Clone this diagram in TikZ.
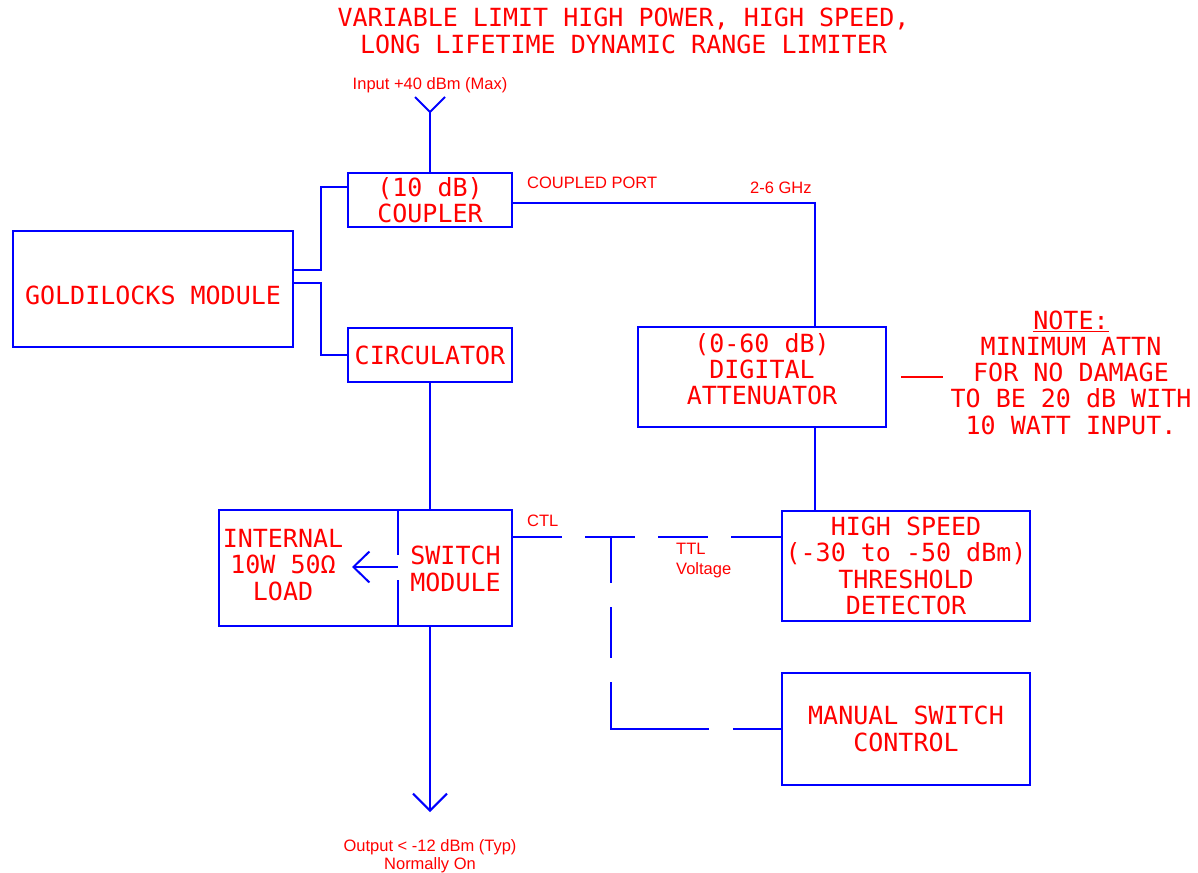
\documentclass[tikz,border=0pt]{standalone}
\usepackage{fontspec}
\setmainfont{Liberation Sans}
\newfontfamily\cadfont{DejaVu Sans Mono}
\usetikzlibrary{arrows.meta}
\definecolor{cadred}{RGB}{255,0,0}
\definecolor{cadblue}{RGB}{0,0,255}
\begin{document}
\begin{tikzpicture}[x=1pt,y=-1pt,
  cad/.style={text=cadred,font=\cadfont\fontsize{25}{26.3}\selectfont,align=center,inner sep=0pt},
  blk/.style={cad,draw=cadblue,line width=2pt,rectangle},
  lbl/.style={text=cadred,font=\fontsize{16.5}{19}\selectfont,inner sep=0pt},
  wire/.style={draw=cadblue,line width=2pt},
  bigtip/.style={-{Straight Barb[length=17pt,width=34pt]}},
  loadtipstyle/.style={-{Straight Barb[length=16pt,width=31pt]}}
]
\useasboundingbox (0,0) rectangle (1198,872);

% title
\node[cad] (title) at (623.5,31) {VARIABLE LIMIT HIGH POWER, HIGH SPEED,\\LONG LIFETIME DYNAMIC RANGE LIMITER};

% blocks
\node[blk,minimum width=164pt,minimum height=54pt] (coupler) at (430,200) {(10 dB)\\COUPLER};
\node[blk,minimum width=280pt,minimum height=116pt] (gold) at (153,289) {};
\node[cad] (goldtxt) at (153,295) {GOLDILOCKS MODULE};
\node[blk,minimum width=164pt,minimum height=54pt] (circ) at (430,355) {CIRCULATOR};
\node[blk,minimum width=248pt,minimum height=100pt] (att) at (762,377) {};
\node[cad] (atttxt) at (762,369) {(0-60 dB)\\DIGITAL\\ATTENUATOR};
\node[blk,minimum width=248pt,minimum height=110pt] (det) at (906,566) {HIGH SPEED\\(-30 to -50 dBm)\\THRESHOLD\\DETECTOR};
\node[blk,minimum width=248pt,minimum height=112pt] (man) at (906,729) {MANUAL SWITCH\\CONTROL};

% load + switch module
\node[minimum width=179pt,minimum height=116pt,inner sep=0pt] (loadbox) at (308.5,568) {};
\node[minimum width=114pt,minimum height=116pt,inner sep=0pt] (swbox) at (455,568) {};
\draw[wire] (loadbox.north west) rectangle (swbox.south east);
\draw[wire] (swbox.north west) -- ++(0,45);
\draw[wire] (swbox.south west) -- ++(0,-46);
\node[cad] (loadtxt) at (283,565) {INTERNAL\\10W 50Ω\\LOAD};
\node[cad] (swtxt) at (455.5,569) {SWITCH\\MODULE};
\coordinate (loadtip) at (352,567);
\draw[wire,loadtipstyle] (swbox.west |- loadtip) -- (loadtip);

% note
\node[cad] (note) at (1071,372.5) {\underline{NOTE:}\\MINIMUM ATTN\\FOR NO DAMAGE\\TO BE 20 dB WITH\\10 WATT INPUT.};
\draw[draw=cadred,line width=2pt] ([xshift=14pt]att.east) -- ++(42,0);

% input
\coordinate (ant) at (430,112);
\draw[wire] (ant) -- (coupler.north);
\draw[wire] ([shift={(-15,-15)}]ant) -- (ant) -- ([shift={(15,-15)}]ant);
\node[lbl,anchor=base] (inlbl) at (430,90) {Input +40 dBm (Max)};

% connections
\draw[wire] ([yshift=19pt]gold.east) -- ++(27,0) |- ([yshift=13pt]coupler.west);
\draw[wire] ([yshift=6pt]gold.east) -- ++(27,0) |- (circ.west);
\draw[wire] ([yshift=-3pt]coupler.east) -| ([xshift=53pt]att.north);
\node[lbl,anchor=base west] (cplbl) at (527,188) {COUPLED PORT};
\node[lbl,anchor=base west] (ghzlbl) at (750,193) {2-6 GHz};
\draw[wire] (circ.south) -- (circ.south |- swbox.north);
\draw[wire] ([xshift=53pt]att.south) -- ([xshift=53pt]att.south |- det.north);

% output
\coordinate (out) at (430,812);
\draw[wire,bigtip] (circ.south |- swbox.south) -- (out);
\node[lbl,anchor=north,align=center,font=\fontsize{16.5}{18}\selectfont] (outlbl) at (430,839) {Output < -12 dBm (Typ)\\Normally On};

% control lines
\coordinate (ctl) at ([yshift=31pt]swbox.east);
\draw[wire,dash pattern=on 50pt off 23pt] (ctl) -- (ctl -| det.west);
\coordinate (jn) at (611,537);
\draw[wire,dash pattern=on 46pt off 24pt on 51pt off 24pt on 145pt off 24pt on 60pt] (jn) |- (man.west);
\node[lbl,anchor=base west] (ctllbl) at (527,526) {CTL};
\node[lbl,anchor=north west,align=left,font=\fontsize{16.5}{20}\selectfont] (ttllbl) at (676,543) {TTL\\Voltage};
\end{tikzpicture}
\end{document}
